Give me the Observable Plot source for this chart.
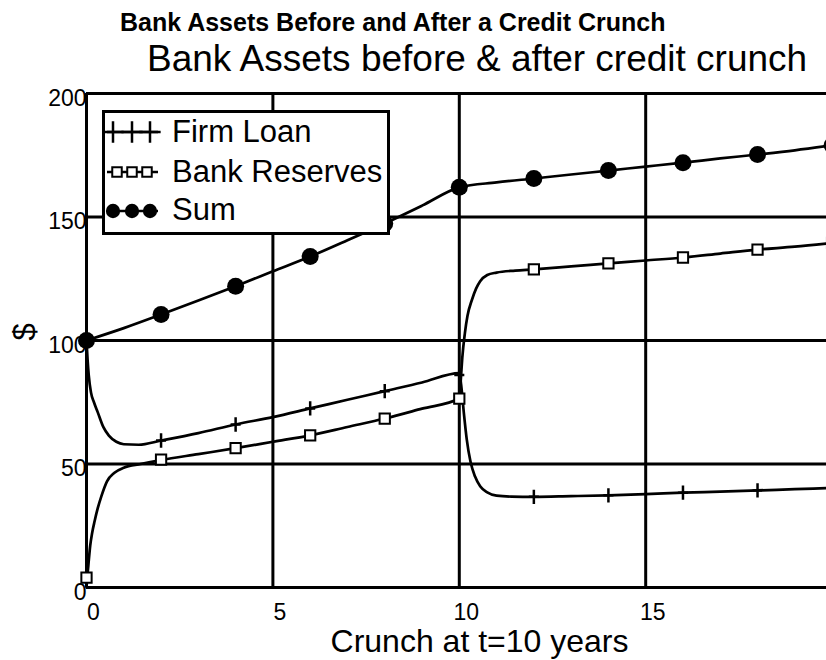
<!DOCTYPE html>
<html>
<head>
<meta charset="utf-8">
<script src="https://cdn.jsdelivr.net/npm/d3@7"></script>
<script src="https://cdn.jsdelivr.net/npm/@observablehq/plot@0.6"></script>
<style>
  html, body { margin: 0; padding: 0; background: white; overflow: hidden; }
  #wrap { position: relative; width: 826px; height: 660px; font-family: "Liberation Sans", Arial, sans-serif; }
  .ttl { position: absolute; white-space: nowrap; line-height: 1; color: black; }
  #title { left: 120px; top: 10px; font-size: 25px; font-weight: bold; }
  #subtitle { left: 147px; top: 40px; font-size: 37px; }
  #chart { position: absolute; left: 0; top: 0; }
  #legend { position: absolute; left: 100px; top: 108px; }
</style>
</head>
<body>
<div id="wrap">
  <div id="chart"></div>
  <div class="ttl" id="title">Bank Assets Before and After a Credit Crunch</div>
  <div class="ttl" id="subtitle">Bank Assets before &amp; after credit crunch</div>
  <svg id="legend" width="292" height="130"></svg>
</div>
<script>
// ---- Data ----
const seriesNames = ["Firm Loan", "Bank Reserves", "Sum"];

// Firm Loan curve
const loanT = [0, 0.03, 0.06, 0.12, 0.2, 0.3, 0.45, 0.6, 0.8, 1, 1.4, 2, 3, 4, 5, 6, 7, 8, 9, 10,
               10.05, 10.12, 10.2, 10.3, 10.42, 10.56, 10.75, 11, 11.4, 12, 13, 14, 15, 16, 17, 18, 19, 20];
const loanV = [100, 92, 86, 79, 75, 71, 65, 61.5, 59, 58, 57.8, 59.5, 62.5, 66, 69, 72.5, 76, 79.5, 83, 86.8,
               82, 71, 60, 51, 45, 41, 38.5, 37.2, 36.8, 36.7, 37, 37.3, 37.8, 38.4, 38.8, 39.3, 39.8, 40.3];

// Bank Reserves curve
const reservesT = [0, 0.02, 0.05, 0.1, 0.15, 0.22, 0.3, 0.4, 0.55, 0.75, 1, 1.45, 2, 3, 4, 5, 6, 7, 8, 9, 10,
                   10.04, 10.08, 10.15, 10.22, 10.34, 10.45, 10.56, 10.75, 11, 11.5, 12, 13, 14, 15, 16, 17, 18, 19, 20];
const reservesV = [0, 4, 9, 17, 22, 27, 32, 37, 43, 46.5, 48.5, 50, 51.6, 54, 56.4, 59, 61.6, 65, 68.4, 72.4, 76.5,
                   84, 93, 103, 110, 116.5, 121, 124, 126.5, 127.5, 128.3, 128.8, 130, 131.2, 132.4, 133.6, 135.2, 136.8, 138, 139.5];

// Sum curve
const sumT = [0, 1, 2, 3, 4, 5, 6, 7, 8, 9, 10, 11, 12, 13, 14, 15, 16, 17, 18, 19, 20];
const sumV = [100, 105, 110.5, 116.2, 122, 128, 134, 140.6, 147.4, 154.6, 162, 164, 165.6, 167.2, 168.8, 170.4, 172, 173.7, 175.3, 177, 179];

// Marker positions (every 2 years)
const markerT = [0, 2, 4, 6, 8, 10, 12, 14, 16, 18, 20];
const loanMarkV = [100, 59.5, 66, 72.5, 79.5, 86, 36.7, 37.3, 38.4, 39.3, 40.3];
const reservesMarkV = [4, 51.8, 56.4, 61.6, 68.4, 76.5, 128.8, 131.2, 133.6, 136.8, 139.5];
const sumMarkV = [100, 110.5, 122, 134, 147.4, 162, 165.6, 168.8, 172, 175.3, 179];

// Axis ticks
const xTicks = [0, 5, 10, 15];
const yTicks = [0, 50, 100, 150, 200];
const xGrid = [5, 10, 15];
const yGrid = [50, 100, 150];
const xLabel = "Crunch at t=10 years";
const yLabel = "$";

// ---- Build tables ----
const toRows = (T, V) => T.map((t, i) => ({t, v: V[i]}));
const loan = toRows(loanT, loanV);
const reserves = toRows(reservesT, reservesV);
const sum = toRows(sumT, sumV);
const loanMarks = toRows(markerT, loanMarkV);
const resMarks = toRows(markerT, reservesMarkV);
const sumMarks = toRows(markerT, sumMarkV);

// plus marker: tall vertical bar, short horizontal bar
const tickPlus = {
  draw(ctx, size) {
    const v = Math.sqrt(size) * 0.45, h = v * 0.7;
    ctx.moveTo(0, -v); ctx.lineTo(0, v);
    ctx.moveTo(-h, 0); ctx.lineTo(h, 0);
  }
};

const font = "'Liberation Sans', Arial, sans-serif";
const chart = Plot.plot({
  width: 826,
  height: 660,
  marginTop: 93,
  marginBottom: 73,
  marginLeft: 86,
  marginRight: 0,
  x: {domain: [0, 19.85]},
  y: {domain: [0, 200]},
  style: {fontFamily: font, fontSize: "23px", background: "white", color: "black"},
  marks: [
    Plot.gridX(xGrid, {stroke: "black", strokeOpacity: 1, strokeWidth: 3}),
    Plot.gridY(yGrid, {stroke: "black", strokeOpacity: 1, strokeWidth: 3}),
    Plot.ruleY([0, 200], {stroke: "black", strokeWidth: 3}),
    Plot.ruleX([0], {stroke: "black", strokeWidth: 3}),
    Plot.axisX(xTicks, {tickSize: 0, tickPadding: 16, fontSize: 23, dx: 7, label: null, tickFormat: d => String(d)}),
    Plot.axisY(yTicks, {tickSize: 0, tickPadding: 0, fontSize: 23, dy: 5, label: null, tickFormat: d => String(d)}),
    Plot.text([xLabel], {frameAnchor: "bottom", dy: 64, dx: 23, fontSize: 32, lineAnchor: "bottom", text: d => d}),
    Plot.text([yLabel], {frameAnchor: "left", dx: -61, rotate: -90, fontSize: 31, text: d => d}),
    Plot.line(loan, {x: "t", y: "v", stroke: "black", strokeWidth: 2.7, curve: "monotone-x"}),
    Plot.line(reserves, {x: "t", y: "v", stroke: "black", strokeWidth: 2.7, curve: "monotone-x"}),
    Plot.line(sum, {x: "t", y: "v", stroke: "black", strokeWidth: 2.7, curve: "monotone-x"}),
    Plot.dot(loanMarks, {x: "t", y: "v", symbol: tickPlus, r: 9, stroke: "black", strokeWidth: 2.5}),
    Plot.dot(resMarks, {x: "t", y: "v", symbol: "square", r: 5.8, fill: "white", stroke: "black", strokeWidth: 2}),
    Plot.dot(sumMarks, {x: "t", y: "v", symbol: "circle", r: 8.5, fill: "black", stroke: "none"})
  ]
});
document.getElementById("chart").appendChild(chart);

// ---- Legend (drawn inside the plot area, as in the reference) ----
const lg = d3.select("#legend");
lg.append("rect").attr("x", 3.5).attr("y", 3.5).attr("width", 285).attr("height", 122)
  .attr("fill", "white").attr("stroke", "black").attr("stroke-width", 3);
const rows = [
  {name: seriesNames[0], cy: 24, base: 34, sym: d3.symbolPlus, size: 150, fill: "none", stroke: "black", sw: 2.5, xs: [13, 32, 50]},
  {name: seriesNames[1], cy: 64, base: 74, sym: d3.symbolSquare, size: 90, fill: "white", stroke: "black", sw: 2, xs: [17, 32, 47]},
  {name: seriesNames[2], cy: 103, base: 112, sym: d3.symbolCircle, size: 160, fill: "black", stroke: "none", sw: 0, xs: [13, 32, 50]}
];
rows.forEach(r => {
  lg.append("line").attr("x1", 7).attr("x2", 58).attr("y1", r.cy).attr("y2", r.cy)
    .attr("stroke", "black").attr("stroke-width", 2.5);
  r.xs.forEach(x => {
    lg.append("path").attr("d", d3.symbol(r.sym, r.size)())
      .attr("transform", `translate(${x},${r.cy})`)
      .attr("fill", r.fill).attr("stroke", r.stroke).attr("stroke-width", r.sw);
  });
  lg.append("text").attr("x", 72).attr("y", r.base).text(r.name)
    .attr("font-family", font).attr("font-size", 31).attr("fill", "black");
});
</script>
</body>
</html>
